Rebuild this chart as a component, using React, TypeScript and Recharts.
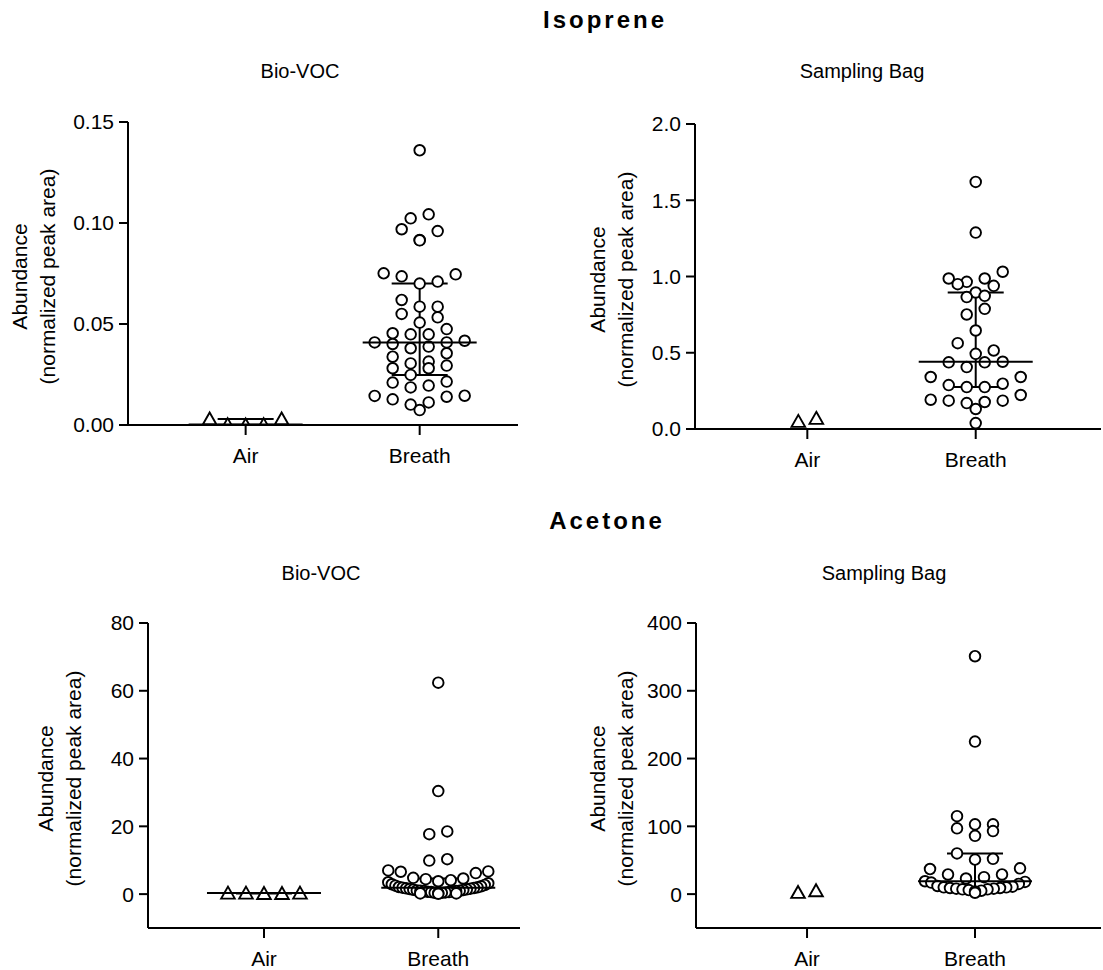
import { ErrorBar, Label, Scatter, ScatterChart, XAxis, YAxis } from 'recharts';

const groups = ['Air', 'Breath'];

// Isoprene, Bio-VOC
const isoBioAir = [0.003, 0.0002, 0, 0.0002, 0.003];
const isoBioBreath = [
  0.136, 0.1043, 0.1023, 0.0969, 0.096, 0.0916, 0.0914, 0.0751, 0.0746, 0.0736, 0.071, 0.07,
  0.0619, 0.0586, 0.0586, 0.055, 0.0533, 0.0507, 0.0475, 0.0454, 0.0449, 0.0449, 0.0417,
  0.0409, 0.0409, 0.0401, 0.0388, 0.038, 0.0355, 0.0338, 0.0314, 0.0305, 0.0294, 0.0281,
  0.0281, 0.0248, 0.0215, 0.021, 0.0195, 0.0186, 0.0145, 0.0144, 0.014, 0.0127, 0.0112,
  0.0101, 0.0074
];

// Isoprene, Sampling Bag
const isoBagAir = [0.05, 0.07];
const isoBagBreath = [
  1.62, 1.288, 1.031, 0.987, 0.987, 0.965, 0.95, 0.939, 0.895, 0.873, 0.865, 0.788, 0.751,
  0.646, 0.563, 0.515, 0.493, 0.441, 0.437, 0.437, 0.406, 0.341, 0.341, 0.297, 0.288, 0.275,
  0.275, 0.223, 0.192, 0.186, 0.186, 0.177, 0.17, 0.131, 0.039
];

// Acetone, Bio-VOC
const aceBioAir = [0.2, 0.3, 0.3, 0.2, 0.3];
const aceBioBreath = [
  62.4, 30.4, 18.5, 17.7, 10.3, 9.9, 7.0, 6.7, 6.6, 6.2, 4.8, 4.6, 4.4, 4.1, 3.8, 3.5, 3.2,
  2.9, 2.7, 2.5, 2.3, 2.1, 2.0, 1.9, 1.8, 1.7, 1.6, 1.5, 1.4, 1.3, 1.2, 1.1, 1.0, 1.0, 0.9,
  0.9, 0.8, 0.7, 0.6, 0.6, 0.5, 0.4, 0.4, 0.3, 0.2, 0.2, 0.1
];

// Acetone, Sampling Bag
const aceBagAir = [2.5, 5];
const aceBagBreath = [
  351, 225, 115, 103, 103, 97, 93, 86, 60, 52, 51, 38, 37, 29, 29, 25, 23, 19, 18, 17, 15,
  12, 11, 10, 10, 9, 9, 8, 8, 7, 7, 6, 5, 4, 2
];

const isoBioTicks = [0, 0.05, 0.1, 0.15];
const isoBagTicks = [0, 0.5, 1, 1.5, 2];
const aceBioTicks = [0, 20, 40, 60, 80];
const aceBagTicks = [0, 100, 200, 300, 400];

const FONT = '"Liberation Sans", Arial, Helvetica, sans-serif';
const ROW_PX = 11;
const MAX_GAP = 18;
const MAX_SPAN = 100;

// GraphPad-like column scatter: rows of similar values, lowest in the middle
function swarm(values: number[], center: number, pxPerY: number, pxPerX: number) {
  const order = values.map((_, i) => i).sort((a, b) => values[b] - values[a]);
  const rows: number[][] = [];
  let cur: number[] = [];
  for (const i of order) {
    if (cur.length && (values[cur[0]] - values[i]) * pxPerY > ROW_PX) {
      rows.push(cur);
      cur = [];
    }
    cur.push(i);
  }
  if (cur.length) rows.push(cur);
  const xs: number[] = new Array(values.length);
  rows.forEach((row) => {
    const n = row.length;
    const gap = n > 1 ? Math.min(MAX_GAP, MAX_SPAN / (n - 1)) : 0;
    const asc = [...row].sort((a, b) => values[a] - values[b]);
    asc.forEach((i, k) => {
      let slot;
      if (n % 2) slot = k === 0 ? 0 : Math.ceil(k / 2) * (k % 2 ? 1 : -1);
      else slot = (Math.floor(k / 2) + 0.5) * (k % 2 ? 1 : -1);
      xs[i] = center + (slot * gap) / pxPerX;
    });
  });
  return values.map((v, i) => ({ x: xs[i], y: v }));
}

function quantile(sorted: number[], p: number) {
  const pos = (sorted.length + 1) * p;
  const lo = Math.min(Math.max(Math.floor(pos), 1), sorted.length);
  const hi = Math.min(lo + 1, sorted.length);
  const frac = Math.max(0, Math.min(1, pos - lo));
  return sorted[lo - 1] + (sorted[hi - 1] - sorted[lo - 1]) * frac;
}

function summary(values: number[], center: number) {
  if (values.length < 3) return [];
  const s = [...values].sort((a, b) => a - b);
  const med = quantile(s, 0.5);
  const q1 = quantile(s, 0.25);
  const q3 = quantile(s, 0.75);
  return [{ x: center, y: med, err: [med - q1, q3 - med] }];
}

const CircleDot = (props: any) => {
  const { cx, cy } = props;
  if (cx == null || cy == null) return null;
  return <circle cx={cx} cy={cy} r={5.3} fill="#fff" stroke="#000" strokeWidth={1.9} />;
};

const TriangleDot = (props: any) => {
  const { cx, cy } = props;
  if (cx == null || cy == null) return null;
  const pts = `${cx},${cy - 6.5} ${cx + 6.8},${cy + 5.5} ${cx - 6.8},${cy + 5.5}`;
  return <polygon points={pts} fill="#fff" stroke="#000" strokeWidth={1.9} strokeLinejoin="miter" />;
};

const MedianMark = (props: any) => {
  const { cx, cy } = props;
  if (cx == null || cy == null) return null;
  return <line x1={cx - 57} x2={cx + 57} y1={cy} y2={cy} stroke="#000" strokeWidth={2} />;
};

const axisTitle = (d1: number, d2: number) => (props: any) => {
  const vb = props.viewBox || {};
  const ax = vb.x + vb.width;
  const cy = vb.y + vb.height / 2 + 3;
  return (
    <g fontFamily={FONT} fontSize={21} fill="#000">
      <text x={ax - d1} y={cy} textAnchor="middle" transform={`rotate(-90, ${ax - d1}, ${cy})`}>
        Abundance
      </text>
      <text x={ax - d2} y={cy} textAnchor="middle" transform={`rotate(-90, ${ax - d2}, ${cy})`}>
        (normalized peak area)
      </text>
    </g>
  );
};

type PanelProps = {
  left: number;
  top: number;
  width: number;
  marginTop: number;
  marginRight: number;
  yWidth: number;
  plotH: number;
  xDomain: [number, number];
  yDomain: [number, number];
  yTicks: number[];
  decimals: number;
  air: number[];
  breath: number[];
  labelOffsets: [number, number];
};

function Panel(p: PanelProps) {
  const height = 370;
  const plotW = p.width - p.yWidth - p.marginRight;
  const pxPerX = plotW / (p.xDomain[1] - p.xDomain[0]);
  const pxPerY = p.plotH / (p.yDomain[1] - p.yDomain[0]);
  const airPts = swarm(p.air, 1, pxPerY, pxPerX);
  const breathPts = swarm(p.breath, 2, pxPerY, pxPerX);
  const stats = [...summary(p.air, 1), ...summary(p.breath, 2)];
  const tickStyle = { fill: '#000', fontSize: 21, fontFamily: FONT };
  const lineStyle = { stroke: '#000', strokeWidth: 2 };
  return (
    <div style={{ position: 'absolute', left: p.left, top: p.top }}>
      <ScatterChart
        width={p.width}
        height={height}
        margin={{ top: p.marginTop, right: p.marginRight, bottom: 0, left: 0 }}
      >
        <XAxis
          type="number"
          dataKey="x"
          domain={p.xDomain}
          ticks={[1, 2]}
          tickFormatter={(v: number) => groups[Math.round(v) - 1]}
          allowDataOverflow
          height={height - p.marginTop - p.plotH}
          axisLine={lineStyle}
          tickLine={lineStyle}
          tickSize={10}
          tickMargin={13}
          tick={tickStyle}
        />
        <YAxis
          type="number"
          dataKey="y"
          domain={p.yDomain}
          ticks={p.yTicks}
          tickFormatter={(v: number) => v.toFixed(p.decimals)}
          allowDataOverflow
          width={p.yWidth}
          axisLine={lineStyle}
          tickLine={lineStyle}
          tickSize={9}
          tickMargin={5}
          tick={tickStyle}
          interval={0}
        >
          <Label content={axisTitle(p.labelOffsets[0], p.labelOffsets[1])} />
        </YAxis>
        <Scatter data={airPts} shape={TriangleDot} isAnimationActive={false} />
        <Scatter data={breathPts} shape={CircleDot} isAnimationActive={false} />
        <Scatter data={stats} shape={MedianMark} isAnimationActive={false}>
          <ErrorBar dataKey="err" direction="y" width={28} stroke="#000" strokeWidth={2} />
        </Scatter>
      </ScatterChart>
    </div>
  );
}

export default function App() {
  return (
    <div
      style={{
        position: 'absolute',
        left: 0,
        top: 0,
        width: 1103,
        height: 970,
        background: '#fff',
        fontFamily: FONT,
      }}
    >
      <svg width={1103} height={970} style={{ position: 'absolute', left: 0, top: 0 }}>
        <g fontFamily={FONT} fill="#000">
          <text x={605} y={28} fontSize={24} fontWeight="bold" letterSpacing={3} textAnchor="middle">
            Isoprene
          </text>
          <text x={607} y={529} fontSize={24} fontWeight="bold" letterSpacing={3} textAnchor="middle">
            Acetone
          </text>
          <text x={300} y={78} fontSize={20} textAnchor="middle">Bio-VOC</text>
          <text x={862} y={78} fontSize={20} textAnchor="middle">Sampling Bag</text>
          <text x={321} y={580} fontSize={20} textAnchor="middle">Bio-VOC</text>
          <text x={884} y={580} fontSize={20} textAnchor="middle">Sampling Bag</text>
        </g>
      </svg>
      <Panel
        left={0}
        top={100}
        width={530}
        marginTop={22}
        marginRight={12}
        yWidth={128}
        plotH={303}
        xDomain={[0.324, 2.565]}
        yDomain={[0, 0.15]}
        yTicks={isoBioTicks}
        decimals={2}
        air={isoBioAir}
        breath={isoBioBreath}
        labelOffsets={[101, 73]}
      />
      <Panel
        left={560}
        top={100}
        width={543}
        marginTop={24}
        marginRight={2}
        yWidth={135}
        plotH={305}
        xDomain={[0.333, 2.744]}
        yDomain={[0, 2]}
        yTicks={isoBagTicks}
        decimals={1}
        air={isoBagAir}
        breath={isoBagBreath}
        labelOffsets={[90, 62]}
      />
      <Panel
        left={0}
        top={600}
        width={530}
        marginTop={23}
        marginRight={10}
        yWidth={148}
        plotH={305}
        xDomain={[0.3345, 2.469]}
        yDomain={[-10, 80]}
        yTicks={aceBioTicks}
        decimals={0}
        air={aceBioAir}
        breath={aceBioBreath}
        labelOffsets={[95, 67]}
      />
      <Panel
        left={560}
        top={600}
        width={543}
        marginTop={23}
        marginRight={2}
        yWidth={136}
        plotH={305}
        xDomain={[0.339, 2.75]}
        yDomain={[-50, 400]}
        yTicks={aceBagTicks}
        decimals={0}
        air={aceBagAir}
        breath={aceBagBreath}
        labelOffsets={[91, 63]}
      />
    </div>
  );
}
